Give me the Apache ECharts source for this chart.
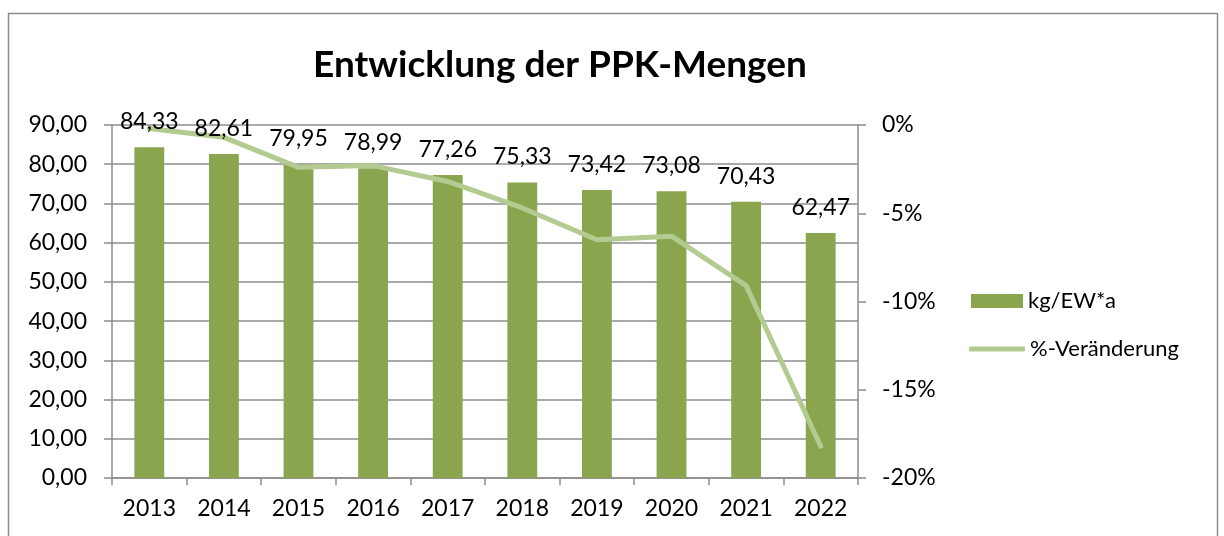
<!DOCTYPE html>
<html>
<head>
<meta charset="utf-8">
<script src="https://cdn.jsdelivr.net/npm/echarts@6/dist/echarts.min.js"></script>
<style>
  html, body { margin: 0; padding: 0; background: #fff; }
  #main { width: 1224px; height: 536px; }
</style>
</head>
<body>
<div id="main"></div>
<script>
  // Daten
  var years = ['2013', '2014', '2015', '2016', '2017', '2018', '2019', '2020', '2021', '2022']
  var kgProEW = [84.33, 82.61, 79.95, 78.99, 77.26, 75.33, 73.42, 73.08, 70.43, 62.47]
  var veraenderung = [-0.2, -0.7, -2.4, -2.3, -3.2, -4.7, -6.5, -6.3, -9.1, -18.2]

  var fontFam = 'Lato, "Open Sans", sans-serif'
  var komma = function (v) { return v.toFixed(2).replace('.', ',') }

  var myChart = echarts.init(document.getElementById('main'))
  myChart.setOption({
    animation: false,
    textStyle: { fontFamily: fontFam },
    graphic: [{
      type: 'rect',
      shape: { x: 8.5, y: 13.5, width: 1209, height: 540 },
      style: { fill: 'none', stroke: '#8c8c8c', lineWidth: 1.5 },
      silent: true
    }],
    title: {
      text: 'Entwicklung der PPK-Mengen',
      left: 555,
      textAlign: 'center',
      top: 42,
      textStyle: { fontFamily: fontFam, fontSize: 37, fontWeight: 'bold', color: '#000' }
    },
    legend: [
      {
        left: 966,
        top: 285,
        itemWidth: 52,
        itemHeight: 14,
        itemGap: 6,
        textStyle: { fontFamily: fontFam, fontSize: 22, color: '#000' },
        data: [{ name: 'kg/EW*a', icon: 'rect' }]
      },
      {
        left: 964,
        top: 333,
        itemWidth: 56,
        itemHeight: 5,
        textStyle: { fontFamily: fontFam, fontSize: 22, color: '#000' },
        data: [{ name: '%-Veränderung', icon: 'roundRect' }]
      }
    ],
    grid: { left: 112, right: 366, top: 125, bottom: 58, containLabel: false },
    xAxis: {
      type: 'category',
      data: years,
      axisLine: { lineStyle: { color: '#8c8c8c', width: 1.5 } },
      axisTick: { show: true, length: 7, lineStyle: { color: '#8c8c8c', width: 1.5 } },
      axisLabel: { color: '#000', fontSize: 23, margin: 19 }
    },
    yAxis: [
      {
        type: 'value',
        min: 0,
        max: 90,
        interval: 10,
        axisLine: { show: true, lineStyle: { color: '#8c8c8c', width: 1.5 } },
        axisTick: { show: true, length: 8, lineStyle: { color: '#8c8c8c', width: 1.5 } },
        splitLine: { lineStyle: { color: '#8c8c8c', width: 1.5 } },
        axisLabel: { color: '#000', fontSize: 23, margin: 25, formatter: function (v) { return komma(v) } }
      },
      {
        type: 'value',
        min: -20,
        max: 0,
        interval: 5,
        position: 'right',
        axisLine: { show: true, lineStyle: { color: '#8c8c8c', width: 1.5 } },
        axisTick: { show: true, length: 8, lineStyle: { color: '#8c8c8c', width: 1.5 } },
        splitLine: { show: false },
        axisLabel: { color: '#000', fontSize: 23, margin: 24, formatter: '{value}%' }
      }
    ],
    series: [
      {
        name: 'kg/EW*a',
        type: 'bar',
        barWidth: '40%',
        itemStyle: { color: '#8aa54e' },
        data: kgProEW,
        z: 2
      },
      {
        name: '%-Veränderung',
        type: 'line',
        yAxisIndex: 1,
        symbol: 'none',
        lineStyle: { color: '#b3cb90', width: 5, cap: 'round', join: 'round' },
        itemStyle: { color: '#b3cb90' },
        data: veraenderung,
        z: 3
      },
      {
        // nur die Beschriftungen, über der Linie
        name: 'labels',
        type: 'bar',
        barWidth: '40%',
        barGap: '-100%',
        itemStyle: { color: 'rgba(0,0,0,0)' },
        silent: true,
        label: {
          show: true,
          position: 'top',
          distance: 14,
          color: '#000',
          fontSize: 23,
          fontFamily: fontFam,
          formatter: function (p) { return komma(p.value) }
        },
        data: kgProEW,
        z: 4
      }
    ]
  })
</script>
</body>
</html>
